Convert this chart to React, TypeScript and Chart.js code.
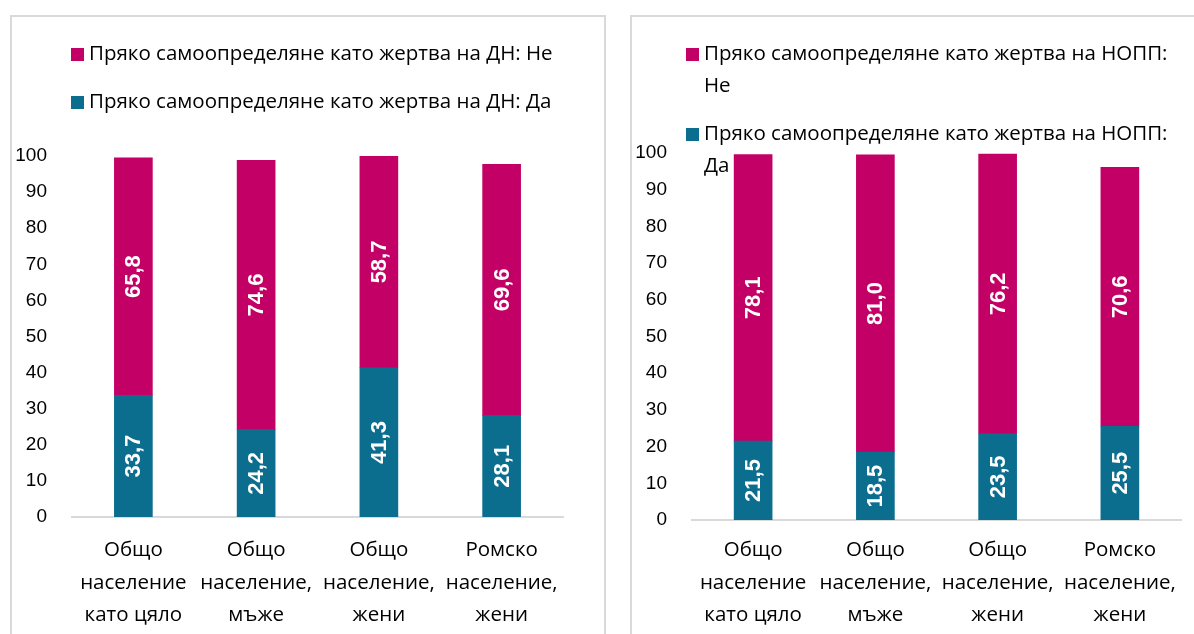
import React, { useEffect, useRef } from "react";
import { Chart, registerables } from "chart.js";

Chart.register(...registerables);

// ---------- DATA ----------
const categories: string[][] = [
  ["Общо", "население", "като цяло"],
  ["Общо", "население,", "мъже"],
  ["Общо", "население,", "жени"],
  ["Ромско", "население,", "жени"],
];

const leftLabelYes = "Пряко самоопределяне като жертва на ДН: Да";
const leftLabelNo = "Пряко самоопределяне като жертва на ДН: Не";
const leftYes = [33.7, 24.2, 41.3, 28.1];
const leftNo = [65.8, 74.6, 58.7, 69.6];

const rightLabelYes = "Пряко самоопределяне като жертва на НОПП: Да";
const rightLabelNo = "Пряко самоопределяне като жертва на НОПП: Не";
const rightYes = [21.5, 18.5, 23.5, 25.5];
const rightNo = [78.1, 81.0, 76.2, 70.6];

const yMin = 0;
const yMax = 100;
const yStep = 10;

// ---------- STYLE ----------
const COLOR_YES = "#0C6E8F";
const COLOR_NO = "#C20066";
const TEXT_FAMILY = "Open Sans";
const TEXT_FONT = `"${TEXT_FAMILY}", sans-serif`;
const TEXT_SIZE = 20.5;
const NUM_FONT = "'Liberation Sans', Arial, sans-serif";

const CANVAS_W = 592;
const CANVAS_H = 617;

function wrapText(ctx: CanvasRenderingContext2D, text: string, maxWidth: number): string[] {
  const words = text.split(" ");
  const lines: string[] = [];
  let cur = "";
  for (const w of words) {
    const test = cur ? cur + " " + w : w;
    if (cur && ctx.measureText(test).width > maxWidth) {
      lines.push(cur);
      cur = w;
    } else {
      cur = test;
    }
  }
  if (cur) lines.push(cur);
  return lines;
}

const sideLegend = {
  id: "sideLegend",
  afterDraw(chart: any, _args: any, opts: any) {
    const ctx: CanvasRenderingContext2D = chart.ctx;
    ctx.save();
    ctx.font = opts.font;
    ctx.textBaseline = "middle";
    ctx.textAlign = "left";
    let y = opts.top;
    const items = [...chart.data.datasets].reverse();
    for (const ds of items) {
      const lines = wrapText(ctx, ds.label, opts.maxWidth);
      ctx.fillStyle = ds.backgroundColor;
      ctx.fillRect(opts.left, Math.round(y - opts.box / 2), opts.box, opts.box);
      ctx.fillStyle = "#000";
      lines.forEach((ln: string, k: number) => {
        ctx.fillText(ln, opts.left + opts.textGap, y + k * opts.lineHeight);
      });
      y += lines.length * opts.lineHeight + opts.itemGap;
    }
    ctx.restore();
  },
};

const barValueLabels = {
  id: "barValueLabels",
  afterDatasetsDraw(chart: any) {
    const ctx: CanvasRenderingContext2D = chart.ctx;
    ctx.save();
    ctx.fillStyle = "#fff";
    ctx.font = `bold 22px ${NUM_FONT}`;
    ctx.textAlign = "center";
    ctx.textBaseline = "middle";
    chart.data.datasets.forEach((ds: any, i: number) => {
      const meta = chart.getDatasetMeta(i);
      meta.data.forEach((bar: any, j: number) => {
        const { x, y, base } = bar.getProps(["x", "y", "base"], true);
        const v = ds.data[j];
        const txt = v.toFixed(1).replace(".", ",");
        ctx.save();
        ctx.translate(x, (y + base) / 2);
        ctx.rotate(-Math.PI / 2);
        ctx.fillText(txt, 0, 1);
        ctx.restore();
      });
    });
    ctx.restore();
  },
};

type PanelProps = {
  left: number;
  yes: number[];
  no: number[];
  labelYes: string;
  labelNo: string;
  areaTop: number;
  areaBottom: number;
  areaRight: number;
  xPad: number;
  legendLeft: number;
  legendMaxWidth: number;
};

function Panel(p: PanelProps) {
  const ref = useRef<HTMLCanvasElement>(null);
  useEffect(() => {
    let chart: Chart | null = null;
    let cancelled = false;
    const build = () => {
      if (cancelled || !ref.current) return;
      chart = new Chart(ref.current, {
        type: "bar",
        data: {
          labels: categories,
          datasets: [
            { label: p.labelYes, data: p.yes, backgroundColor: COLOR_YES, barThickness: 38 },
            { label: p.labelNo, data: p.no, backgroundColor: COLOR_NO, barThickness: 38 },
          ],
        },
        options: {
          animation: false,
          responsive: false,
          devicePixelRatio: 1,
          layout: { padding: { top: p.areaTop, left: 0, right: CANVAS_W - p.areaRight, bottom: 0 } },
          plugins: {
            legend: { display: false },
            tooltip: { enabled: false },
            sideLegend: {
              font: `${TEXT_SIZE}px ${TEXT_FONT}`,
              top: 37,
              left: p.legendLeft,
              box: 13,
              textGap: 18,
              lineHeight: 32,
              itemGap: 16.5,
              maxWidth: p.legendMaxWidth,
            },
          } as any,
          scales: {
            x: {
              stacked: true,
              grid: { display: false, drawTicks: false, tickLength: 0 },
              border: { display: true, color: "#D9D9D9", width: 2 },
              ticks: {
                color: "#000",
                font: { family: TEXT_FONT, size: TEXT_SIZE, lineHeight: "32.5px" },
                padding: p.xPad,
                autoSkip: false,
                maxRotation: 0,
                minRotation: 0,
              },
              afterFit: (s: any) => {
                s.height = CANVAS_H - p.areaBottom;
              },
            },
            y: {
              stacked: true,
              min: yMin,
              max: yMax,
              grid: { display: false, drawTicks: false, tickLength: 0 },
              border: { display: false },
              ticks: {
                stepSize: yStep,
                color: "#000",
                font: { family: NUM_FONT, size: 19 },
                padding: 25,
              },
              afterFit: (s: any) => {
                s.width = 60;
              },
            },
          },
        },
        plugins: [sideLegend, barValueLabels],
      });
    };
    const fonts: any = (document as any).fonts;
    if (fonts && fonts.load) {
      Promise.all([
        fonts.load(`${TEXT_SIZE}px "${TEXT_FAMILY}"`, "Пряко"),
        fonts.load(`bold 22px "Liberation Sans"`, "65,8"),
      ])
        .catch(() => null)
        .then(build);
    } else {
      build();
    }
    return () => {
      cancelled = true;
      if (chart) chart.destroy();
    };
  }, []);
  return (
    <div
      style={{
        position: "absolute",
        left: p.left,
        top: 15,
        width: 596,
        height: 640,
        border: "2px solid #D9D9D9",
        boxSizing: "border-box",
        background: "#fff",
      }}
    >
      <canvas ref={ref} width={CANVAS_W} height={CANVAS_H} style={{ display: "block" }} />
    </div>
  );
}

export default function App() {
  return (
    <div
      style={{
        position: "fixed",
        left: 0,
        top: 0,
        width: 1194,
        height: 634,
        overflow: "hidden",
        background: "#fff",
        fontFamily: TEXT_FONT,
      }}
    >
      <Panel
        left={10}
        yes={leftYes}
        no={leftNo}
        labelYes={leftLabelYes}
        labelNo={leftLabelNo}
        areaTop={139}
        areaBottom={500}
        areaRight={551}
        xPad={17}
        legendLeft={59}
        legendMaxWidth={520}
      />
      <Panel
        left={630}
        yes={rightYes}
        no={rightNo}
        labelYes={rightLabelYes}
        labelNo={rightLabelNo}
        areaTop={136}
        areaBottom={503}
        areaRight={549}
        xPad={14}
        legendLeft={54}
        legendMaxWidth={480}
      />
    </div>
  );
}
